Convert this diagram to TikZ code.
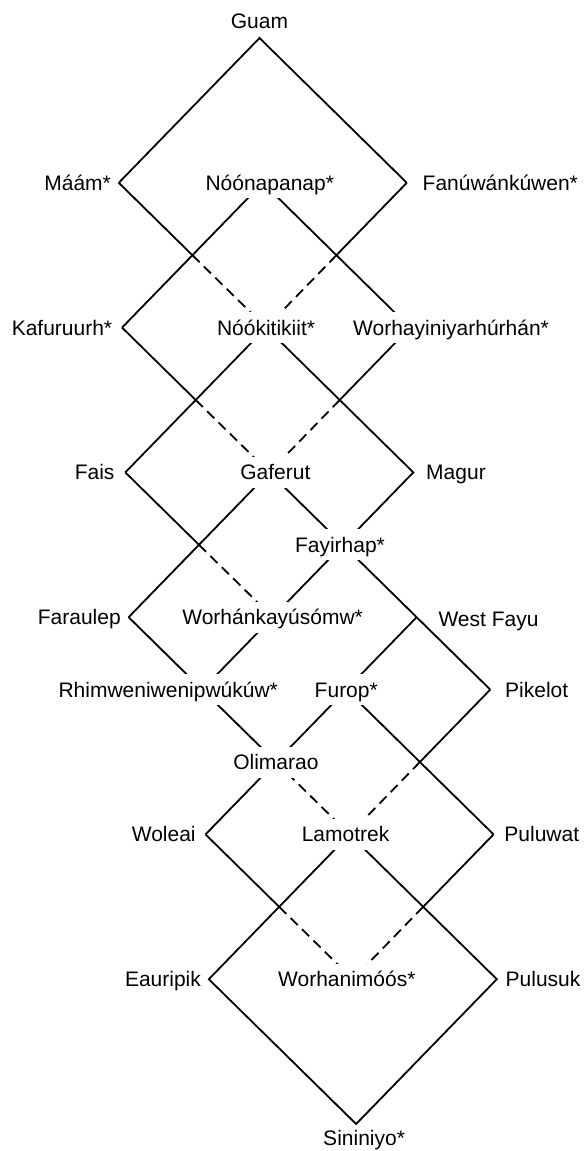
\documentclass[tikz,border=0pt]{standalone}
\usepackage{fontspec}
\setmainfont{Liberation Sans}
\begin{document}
\begin{tikzpicture}[x=0.5pt, y=-0.5pt, line width=0.9pt,
  every node/.style={font=\fontsize{10.5}{12}\selectfont, text height=7.5pt, text depth=0pt},
  place/.style={inner sep=3.5pt},
  mid/.style={fill=white, inner sep=4pt},
  weak/.style={dash pattern=on 5pt off 3pt}]
\useasboundingbox (0,0) rectangle (584,1151);

% lattice points: name/column/row (rows 72.4 apart, leaning slightly right)
\foreach \p/\i/\j in {guam/0/0, maam/-2/2, noon/0/2, fanu/2/2, xa/-1/3, xb/1/3,
    kafu/-2/4, nook/0/4, worhay/2/4, xc/-1/5, xd/1/5,
    fais/-2/6, gafe/0/6, magur/2/6, xe/-1/7, fayi/1/7,
    fara/-2/8, worhank/0/8, westf/2/8,
    rhim/-1/9, furo/1/9, pike/3/9, olim/0/10, xf/2/10,
    wole/-1/11, lamo/1/11, pulw/3/11, xg/0/12, xh/2/12,
    eaur/-1/13, worhan/1/13, pulu/3/13, sini/1/15}
  \coordinate (\p) at ({259.5+72*\i+1.64*\j}, {38+72.4*\j});

% solid links
\draw (maam) -- (guam) -- (fanu);
\draw (maam) -- (xa);
\draw (fanu) -- (xb);
\draw (kafu) -- (noon) -- (worhay);
\draw (kafu) -- (xc);
\draw (worhay) -- (xd);
\draw (fais) -- (nook) -- (magur) -- (fayi) -- (worhank);
\draw (fais) -- (xe);
\draw (fara) -- (gafe) -- (fayi) -- (westf) -- (pike);
\draw (fara) -- (rhim) -- (olim);
\draw (worhank) -- (rhim);
\draw (olim) -- (furo) -- (westf);
\draw (furo) -- (pulw);
\draw (pike) -- (xf);
\draw (wole) -- (olim);
\draw (wole) -- (xg);
\draw (pulw) -- (xh);
\draw (lamo) -- (pulu) -- (sini) -- (eaur) -- (lamo);

% dashed links
\draw[weak] (xa) -- (nook);
\draw[weak] (xb) -- (nook);
\draw[weak] (xc) -- (gafe);
\draw[weak] (xd) -- (gafe);
\draw[weak] (xe) -- (worhank);
\draw[weak] (xf) -- (lamo);
\draw[weak] (olim) -- (lamo);
\draw[weak] (xg) -- (worhan);
\draw[weak] (xh) -- (worhan);

% labels
\node[place, anchor=south, yshift=1pt] (l-guam) at (guam) {Guam};
\node[place, anchor=east] (l-maam) at (maam) {Máám*};
\node[mid, xshift=3.5pt] (l-noon) at (noon) {Nóónapanap*};
\node[place, anchor=west, xshift=4pt] (l-fanu) at (fanu) {Fanúwánkúwen*};
\node[place, anchor=east, xshift=-1pt] (l-kafu) at (kafu) {Kafuruurh*};
\node[mid] (l-nook) at (nook) {Nóókitikiit*};
\node[mid, xshift=20.5pt] (l-worhay) at (worhay) {Worhayiniyarhúrhán*};
\node[place, anchor=east, xshift=-1.5pt] (l-fais) at (fais) {Fais};
\node[mid, xshift=3pt] (l-gafe) at (gafe) {Gaferut};
\node[place, anchor=west, xshift=2.5pt] (l-magur) at (magur) {Magur};
\node[mid, xshift=-1.5pt] (l-fayi) at (fayi) {Fayirhap*};
\node[place, anchor=east] (l-fara) at (fara) {Faraulep};
\node[mid] (l-worhank) at (worhank) {Worhánkayúsómw*};
\node[place, anchor=west, xshift=7pt, yshift=-1pt] (l-westf) at (westf) {West Fayu};
\node[mid, xshift=-17pt] (l-rhim) at (rhim) {Rhimweniwenipwúkúw*};
\node[mid] (l-furo) at (furo) {Furop*};
\node[place, anchor=west, xshift=3.5pt] (l-pike) at (pike) {Pikelot};
\node[mid] (l-olim) at (olim) {Olimarao};
\node[place, anchor=east, xshift=-1pt] (l-wole) at (wole) {Woleai};
\node[mid, xshift=-2pt] (l-lamo) at (lamo) {Lamotrek};
\node[place, anchor=west, xshift=1.5pt] (l-pulw) at (pulw) {Puluwat};
\node[place, anchor=east] (l-eaur) at (eaur) {Eauripik};
\node[mid, xshift=-3pt] (l-worhan) at (worhan) {Worhanimóós*};
\node[place, anchor=west, xshift=0.5pt] (l-pulu) at (pulu) {Pulusuk};
\node[place, anchor=north, xshift=4pt, yshift=0.5pt] (l-sini) at (sini) {Sininiyo*};
\end{tikzpicture}
\end{document}
